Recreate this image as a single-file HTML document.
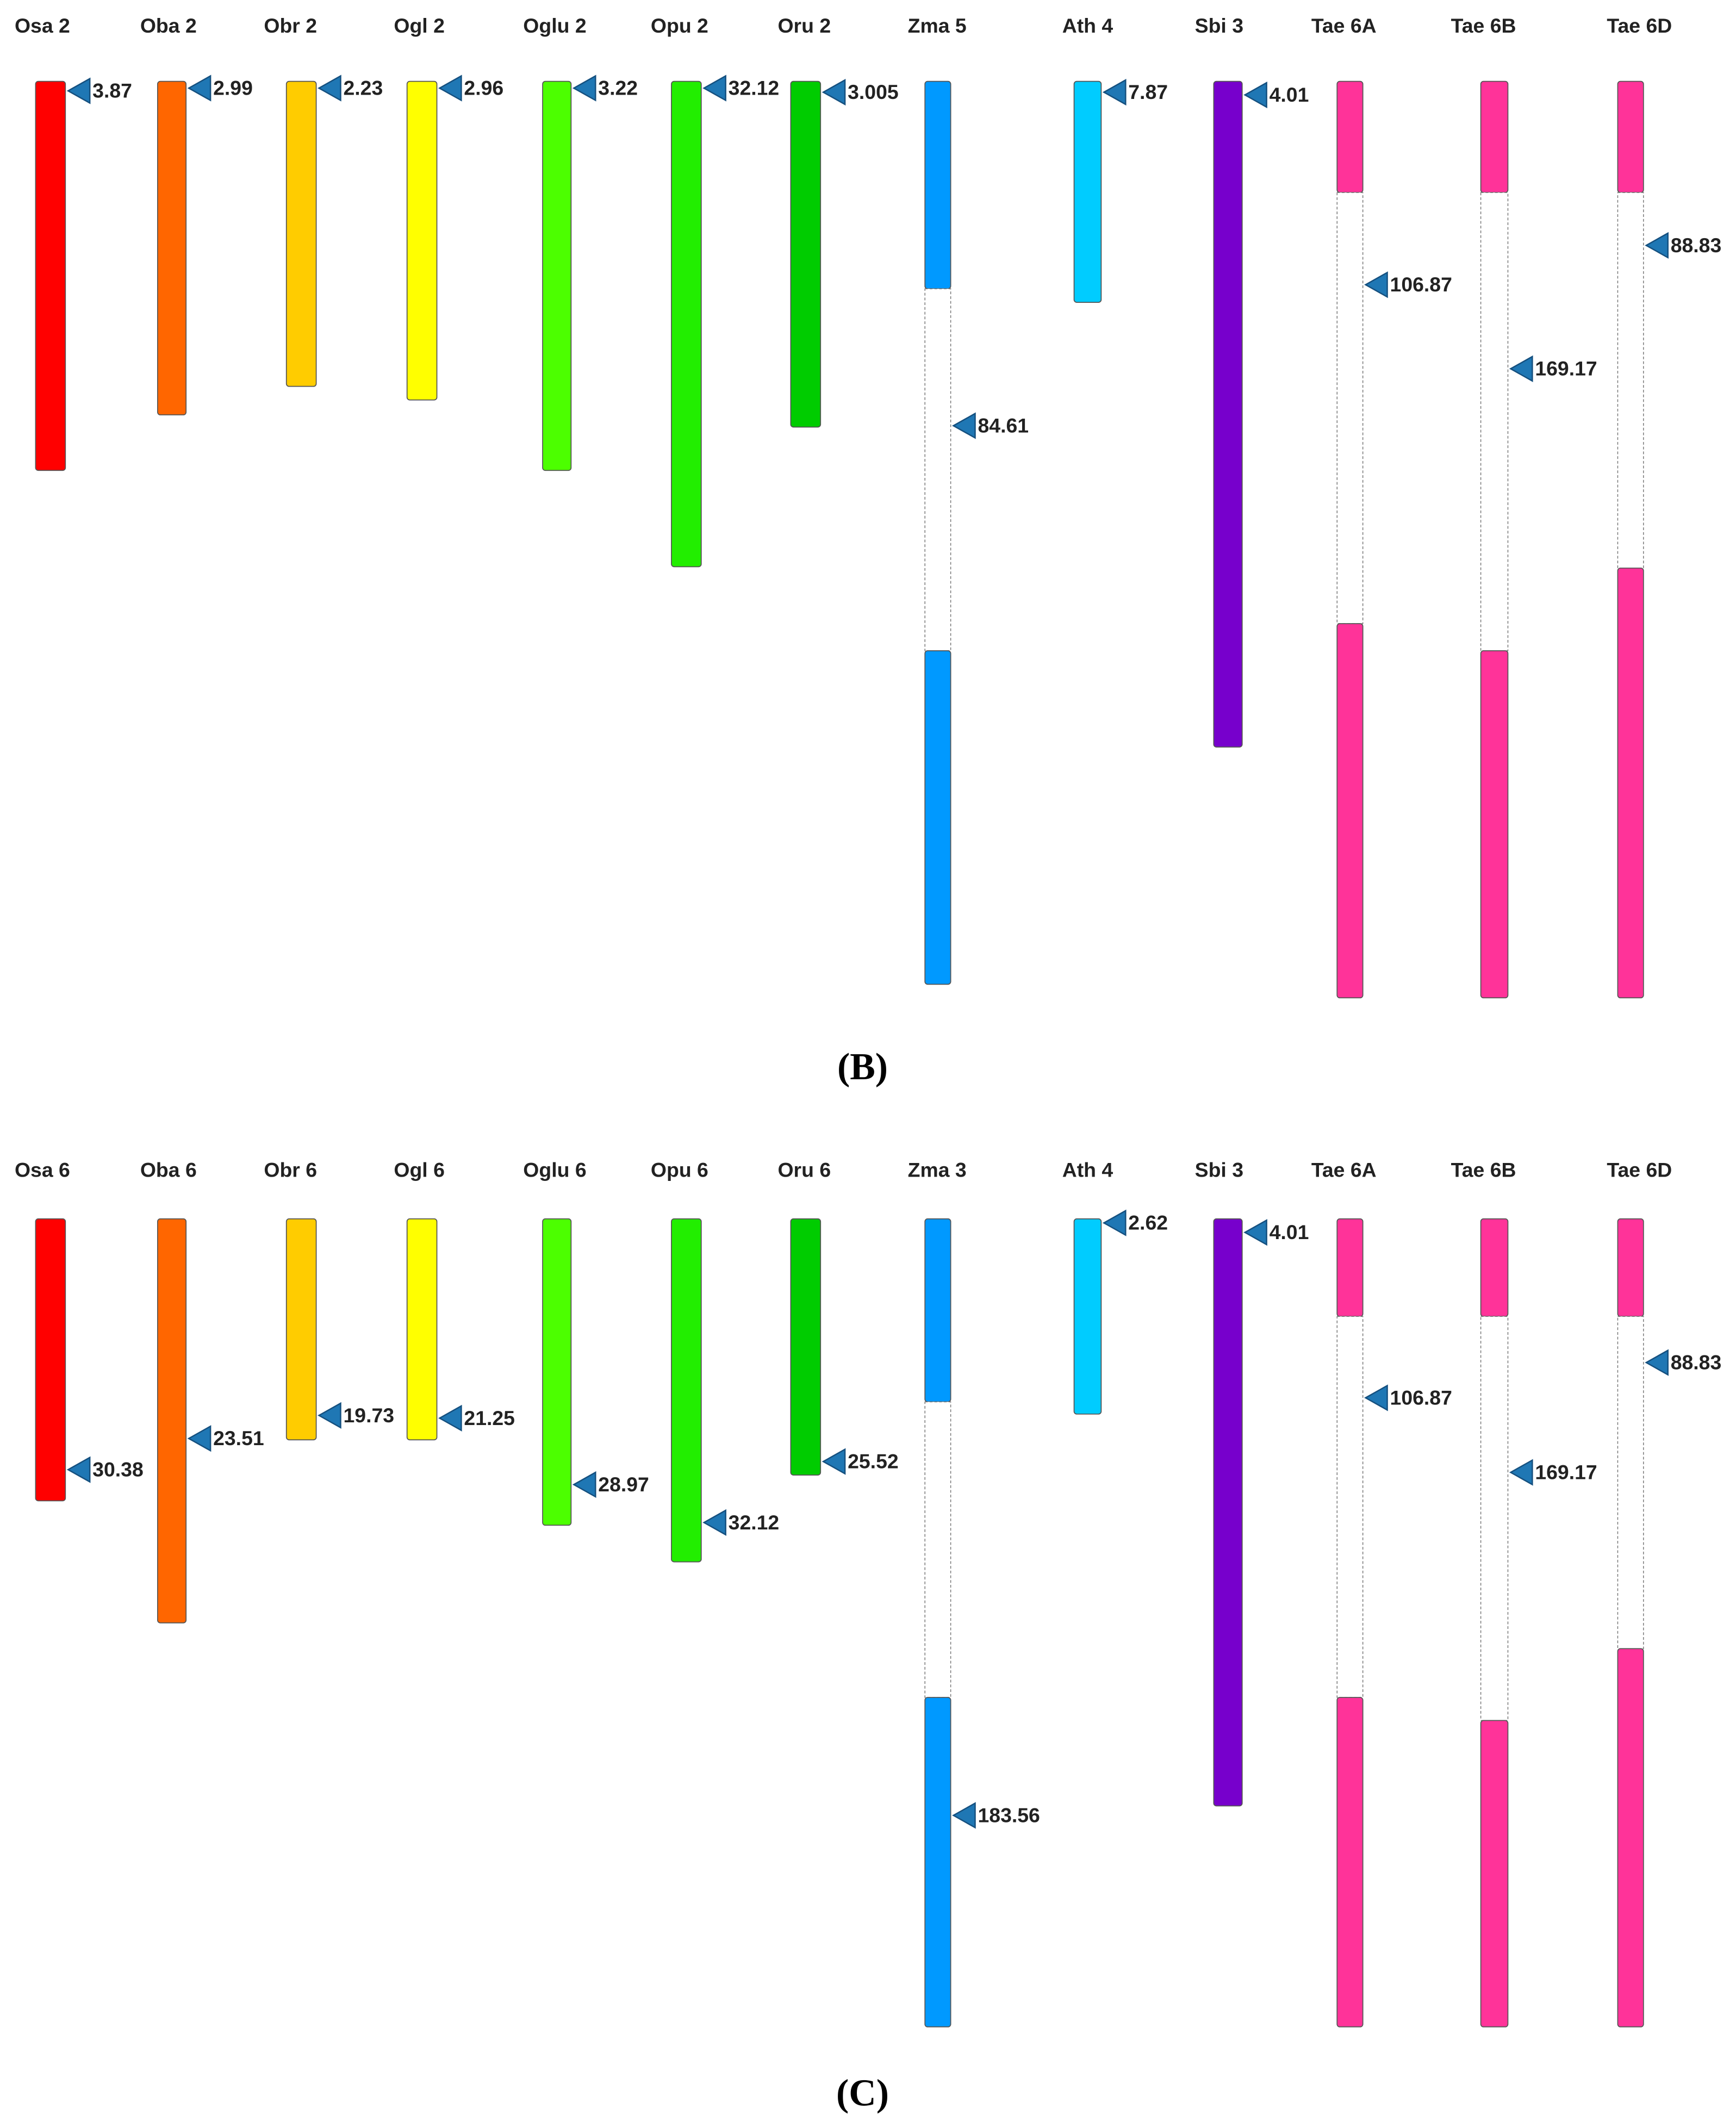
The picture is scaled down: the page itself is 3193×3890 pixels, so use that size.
<!DOCTYPE html>
<html><head><meta charset="utf-8">
<style>
html,body{margin:0;padding:0;background:#fff;}
svg{display:block;}
.t{font-family:"Liberation Sans",Arial,sans-serif;font-weight:bold;font-size:15px;fill:#222;}
.v{font-family:"Liberation Sans",Arial,sans-serif;font-weight:bold;font-size:15px;fill:#222;}
.p{font-family:"Liberation Serif",serif;font-weight:bold;font-size:28px;fill:#000;}
</style></head>
<body>
<svg id="chart" width="3193" height="3890" viewBox="0 0 1280 1560" xmlns="http://www.w3.org/2000/svg">
<text class="p" x="636" y="796" text-anchor="middle">(B)</text>
<text class="p" x="636" y="1553" text-anchor="middle">(C)</text>
</svg>
<script>
// Panel B
const namesB = ["Osa 2","Oba 2","Obr 2","Ogl 2","Oglu 2","Opu 2","Oru 2","Zma 5","Ath 4","Sbi 3","Tae 6A","Tae 6B","Tae 6D"];
const lengthsB = [287,246,225,235,287,358,255,666,163,491,676,676,676];
const gapStartB = [null,null,null,null,null,null,null,153,null,null,82,82,82];
const gapEndB = [null,null,null,null,null,null,null,420,null,null,400,420,359];
const markPosB = [7,5,5,5,5,5,8,254,8,10,150,212,121];
const markLabelB = ["3.87","2.99","2.23","2.96","3.22","32.12","3.005","84.61","7.87","4.01","106.87","169.17","88.83"];
// Panel C
const namesC = ["Osa 6","Oba 6","Obr 6","Ogl 6","Oglu 6","Opu 6","Oru 6","Zma 3","Ath 4","Sbi 3","Tae 6A","Tae 6B","Tae 6D"];
const lengthsC = [208,298,163,163,226,253,189,596,144,433,596,596,596];
const gapStartC = [null,null,null,null,null,null,null,135,null,null,72,72,72];
const gapEndC = [null,null,null,null,null,null,null,353,null,null,353,370,317];
const markPosC = [185,162,145,147,196,224,179,440,3,10,132,187,106];
const markLabelC = ["30.38","23.51","19.73","21.25","28.97","32.12","25.52","183.56","2.62","4.01","106.87","169.17","88.83"];

const colors = ["#FF0000","#FF6600","#FFCC00","#FFFF00","#4CFF00","#22EE00","#00CC00","#0099FF","#00CCFF","#7700CC","#FF3399","#FF3399","#FF3399"];
const colX = [26,116,211,300,400,495,583,682,792,895,986,1092,1193];
const widths = [22,21,22,22,21,22,22,19,20,21,19,20,19];
const titleX = [31,124,214,309,409,501,593,691,802,899,991,1094,1209];

const svg = document.getElementById('chart');
const NS = "http://www.w3.org/2000/svg";
function mk(tag, attrs){const e=document.createElementNS(NS,tag);for(const k in attrs)e.setAttribute(k,attrs[k]);svg.appendChild(e);return e;}

function panel(key, top, titleY, names, lengths, gs, ge, mp, ml){
  const yScale = v => top + v;
  names.forEach((n,i)=>{
    const x = colX[i], w = widths[i];
    const t = mk('text',{class:'t',x:titleX[i],y:titleY,'text-anchor':'middle'});
    t.textContent = n;
    
    
    const g = document.createElementNS(NS,'g'); svg.appendChild(g);
    
    
    const segs = gs[i]===null ? [[0,lengths[i],true]] : [[0,gs[i],true],[gs[i],ge[i],false],[ge[i],lengths[i],true]];
    segs.forEach(s=>{
      const r = document.createElementNS(NS,'rect');
      r.setAttribute('x',x); r.setAttribute('y',yScale(s[0])); r.setAttribute('width',w); r.setAttribute('height',s[1]-s[0]);
      if(s[2]){ r.setAttribute('fill',colors[i]); r.setAttribute('stroke','#555'); r.setAttribute('stroke-width','0.7'); r.setAttribute('rx','2'); }
      else { r.setAttribute('fill','#fff'); r.setAttribute('stroke','#777'); r.setAttribute('stroke-width','0.6'); r.setAttribute('stroke-dasharray','2,1.5'); }
      g.appendChild(r);
    });
    const my = yScale(mp[i]);
    const tri = mk('polygon',{points:`${x+w+2},${my} ${x+w+18},${my-9} ${x+w+18},${my+9}`,fill:'#1F77B4',stroke:'#15507f','stroke-width':'1'});
    
    
    const lt = mk('text',{class:'v',x:x+w+20,y:my+5});
    lt.textContent = ml[i];
    
    
  });
}
panel('b', 60, 24, namesB, lengthsB, gapStartB, gapEndB, markPosB, markLabelB);
panel('c', 899, 868, namesC, lengthsC, gapStartC, gapEndC, markPosC, markLabelC);
</script>
</body></html>
